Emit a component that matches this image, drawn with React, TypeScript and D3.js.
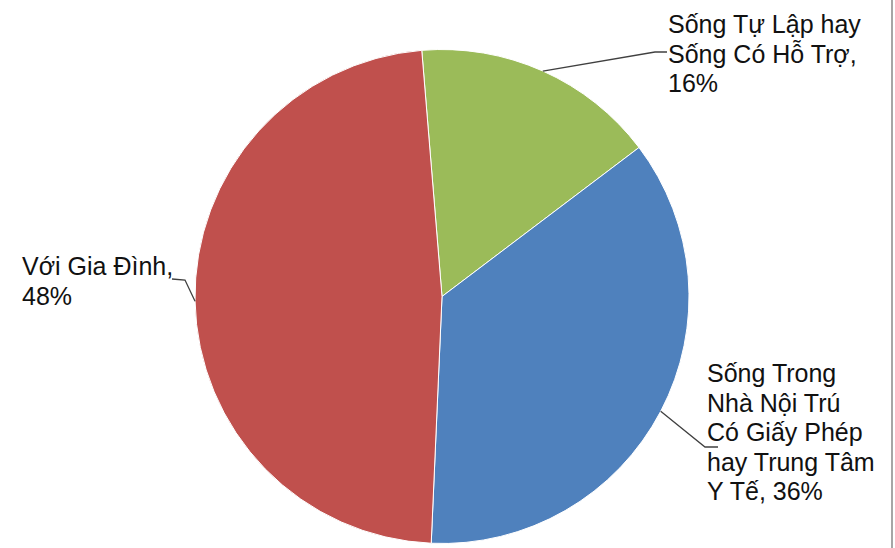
import React from "react";
import * as d3 from "d3";

const categories = ["Sống Tự Lập hay Sống Có Hỗ Trợ", "Sống Trong Nhà Nội Trú Có Giấy Phép hay Trung Tâm Y Tế", "Với Gia Đình"];
const values = [16, 36, 48];
const colors = ["#9BBB59", "#4F81BD", "#C0504D"];
const labelLines = [
  ["Sống Tự Lập hay", "Sống Có Hỗ Trợ,", "16%"],
  ["Sống Trong", "Nhà Nội Trú", "Có Giấy Phép", "hay Trung Tâm", "Y Tế, 36%"],
  ["Với Gia Đình,", "48%"],
];

const W = 895;
const H = 548;
const cx = 442;
const cy = 296.5;
const R = 247;
const startDeg = -4.7;

// label layout: text x, first baseline, leader elbow points (after the pie edge point)
const labelLayout = [
  { x: 668, y: 33, anchor: "start", elbow: [[655, 52], [667, 52]] },
  { x: 707, y: 382, anchor: "start", elbow: [[705, 447], [718, 447]] },
  { x: 22, y: 275, anchor: "start", elbow: [[185, 280], [172, 279]] },
];

export default function App() {
  const a0 = (startDeg * Math.PI) / 180;
  const pie = d3
    .pie<number>()
    .sort(null)
    .startAngle(a0)
    .endAngle(a0 + 2 * Math.PI);
  const arcs = pie(values);
  const arc = d3.arc<d3.PieArcDatum<number>>().innerRadius(0).outerRadius(R);
  const edge = d3.arc<d3.PieArcDatum<number>>().innerRadius(R).outerRadius(R);
  const lineGen = d3.line();

  return (
    <svg
      width={W}
      height={H}
      style={{ position: "absolute", left: 0, top: 0, background: "#fff" }}
      fontFamily="'Liberation Sans', Arial, sans-serif"
    >
      <rect x={0} y={0} width={W} height={H} fill="#fff" />
      <g transform={`translate(${cx},${cy})`}>
        {arcs.map((d, i) => (
          <path key={i} d={arc(d) || ""} fill={colors[i]} stroke="#fff" strokeWidth={1} />
        ))}
      </g>
      {arcs.map((d, i) => {
        const c = edge.centroid(d);
        const pts: [number, number][] = [[cx + c[0], cy + c[1]], ...(labelLayout[i].elbow as [number, number][])];
        return <path key={"l" + i} d={lineGen(pts) || ""} fill="none" stroke="#404040" strokeWidth={1.3} />;
      })}
      {labelLines.map((lines, i) => (
        <text key={"t" + i} fontSize={25} fill="#111" textAnchor={labelLayout[i].anchor as any} aria-label={categories[i]}>
          {lines.map((ln, j) => (
            <tspan key={j} x={labelLayout[i].x} y={labelLayout[i].y + j * 29.6}>
              {ln}
            </tspan>
          ))}
        </text>
      ))}
      <line x1={892} y1={0} x2={892} y2={H} stroke="#a6a6a6" strokeWidth={2} />
    </svg>
  );
}
